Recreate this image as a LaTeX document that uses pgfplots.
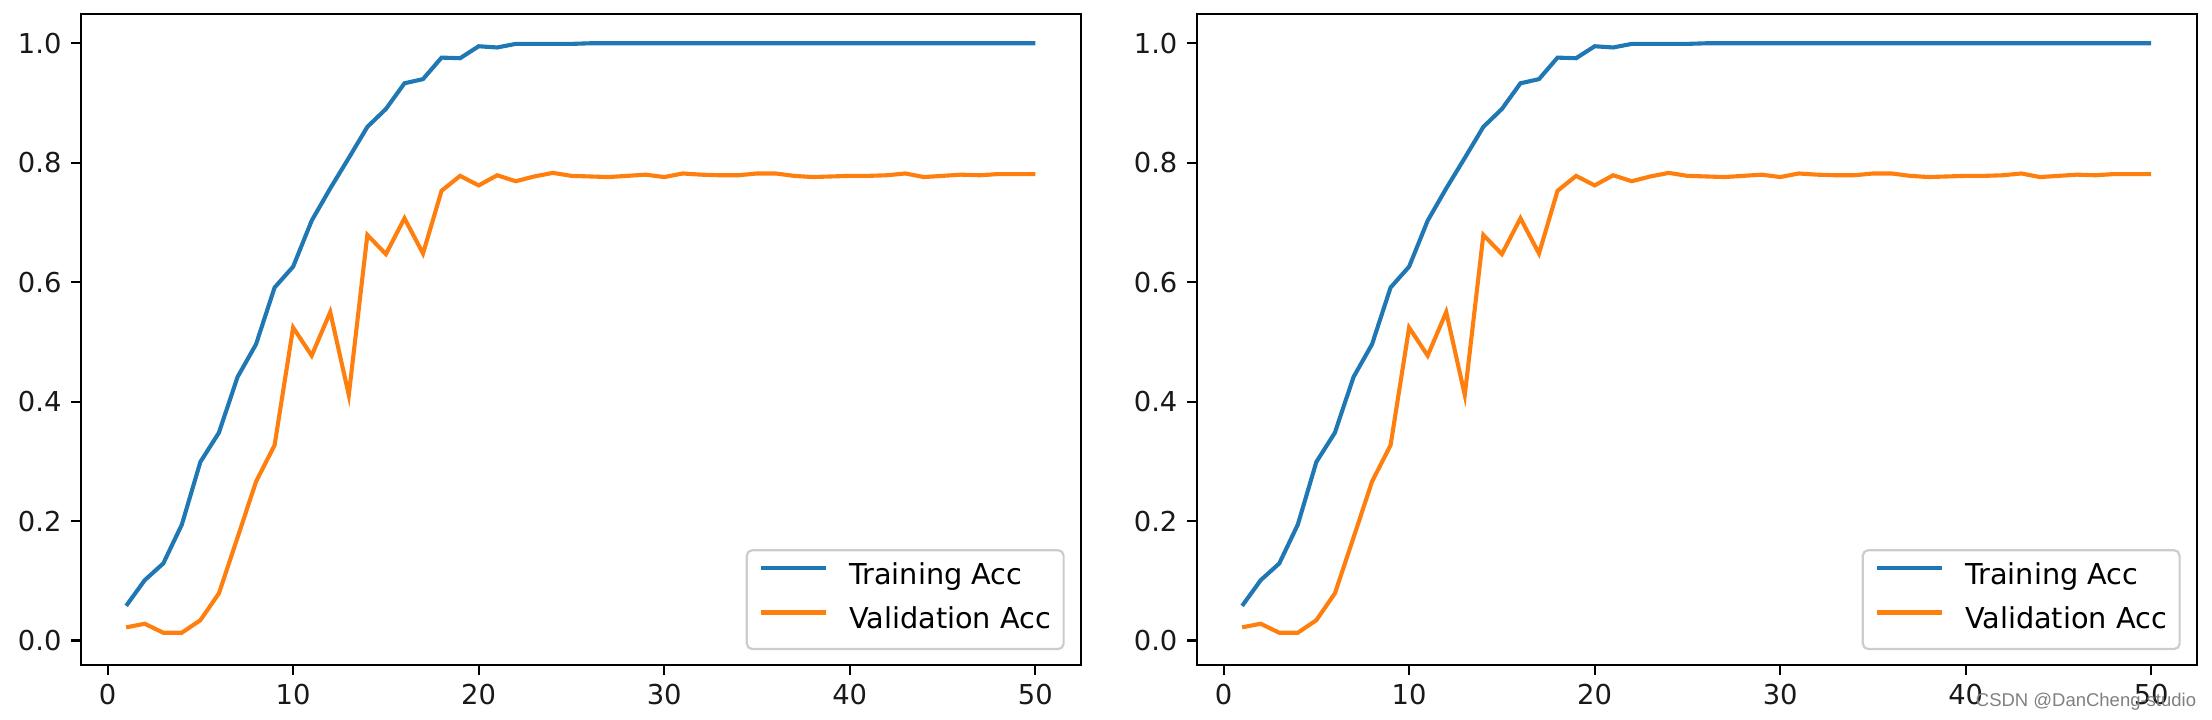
\documentclass[border=0pt]{standalone}
\usepackage{fontspec}
\setmainfont{DejaVu Sans}
\newfontfamily\wmfont{Liberation Sans}
\usepackage{pgfplots}
\usepackage{pgfplotstable}
\pgfplotsset{compat=1.18}
\definecolor{mblue}{HTML}{1F77B4}
\definecolor{morange}{HTML}{FF7F0E}
\definecolor{legframe}{HTML}{CCCCCC}
\pgfplotstableread{
ep train val
1 0.058 0.022
2 0.101 0.028
3 0.129 0.013
4 0.194 0.013
5 0.299 0.034
6 0.348 0.079
7 0.441 0.172
8 0.496 0.266
9 0.591 0.327
10 0.626 0.524
11 0.703 0.477
12 0.757 0.550
13 0.808 0.411
14 0.860 0.679
15 0.890 0.647
16 0.933 0.707
17 0.940 0.648
18 0.976 0.753
19 0.975 0.778
20 0.995 0.762
21 0.993 0.779
22 0.999 0.769
23 0.999 0.777
24 0.999 0.783
25 0.999 0.778
26 1.000 0.777
27 1.000 0.776
28 1.000 0.778
29 1.000 0.780
30 1.000 0.776
31 1.000 0.782
32 1.000 0.780
33 1.000 0.779
34 1.000 0.779
35 1.000 0.782
36 1.000 0.782
37 1.000 0.778
38 1.000 0.776
39 1.000 0.777
40 1.000 0.778
41 1.000 0.778
42 1.000 0.779
43 1.000 0.782
44 1.000 0.776
45 1.000 0.778
46 1.000 0.780
47 1.000 0.779
48 1.000 0.781
49 1.000 0.781
50 1.000 0.781
}\acctable
\pgfplotsset{accstyle/.style={
  scale only axis, width=365pt, height=237.6pt,
  xmin=-1.45, xmax=52.45, ymin=-0.041, ymax=1.049,
  xtick={0,10,20,30,40,50}, ytick={0,0.2,0.4,0.6,0.8,1.0},
  /pgf/number format/assume math mode=true,
  yticklabel style={/pgf/number format/fixed, /pgf/number format/fixed zerofill, /pgf/number format/precision=1},
  tick align=outside, major tick length=3.5pt,
  tick pos=left,
  every tick/.style={black, line width=0.8pt},
  axis line style={black, line width=0.8pt},
  tick label style={font=\fontsize{10}{12}\selectfont, text=black!90},
  legend style={at={(1,0)}, anchor=south east, xshift=-5.84pt, yshift=5.4pt,
    draw=legframe, line width=0.8pt, rounded corners=2pt, fill=white,
    inner xsep=4.6pt, inner ysep=4.85pt, row sep=6.4pt,
    nodes={inner sep=0pt, text height=7.5pt, text depth=2.5pt},
    font=\fontsize{10.5}{12}\selectfont,
    /tikz/every odd column/.style={column sep=7.5pt}},
  legend image code/.code={\draw[#1] (0pt,3.5pt) -- (23.7pt,3.5pt);},
  legend cell align=left,
}}
\begin{document}
\begin{tikzpicture}
\useasboundingbox (0,0) rectangle (807.4pt,262.8pt);
\begin{axis}[accstyle, at={(29.46pt,20.08pt)}, anchor=south west]
\addplot[mblue, line width=1.5pt] table[x=ep, y=train] {\acctable};
\addlegendentry{Training Acc}
\addplot[morange, line width=1.5pt] table[x=ep, y=val] {\acctable};
\addlegendentry{Validation Acc}
\end{axis}
\begin{axis}[accstyle, at={(436.8pt,20.08pt)}, anchor=south west]
\addplot[mblue, line width=1.5pt] table[x=ep, y=train] {\acctable};
\addlegendentry{Training Acc}
\addplot[morange, line width=1.5pt] table[x=ep, y=val] {\acctable};
\addlegendentry{Validation Acc}
\end{axis}
\node[anchor=base east, font=\wmfont\fontsize{6.75}{8}\selectfont, text=black!50, inner sep=0pt] at (801.8pt,4.87pt) {CSDN @DanCheng-studio};
\end{tikzpicture}
\end{document}
